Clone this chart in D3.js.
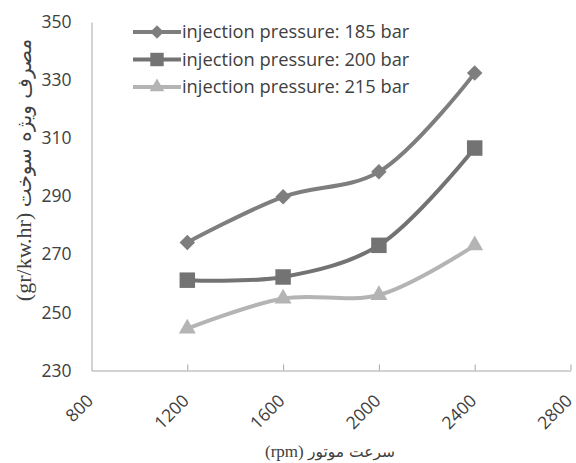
<!DOCTYPE html>
<html><head><meta charset="utf-8">
<script src="https://cdn.jsdelivr.net/npm/d3@7"></script>
<style>body{margin:0;background:#fff}</style>
</head><body>
<script>
const rpm = [1200, 1600, 2000, 2400];
const p185 = [274.1, 289.8, 298.4, 332.4];
const p200 = [261.1, 262.2, 273.1, 306.6];
const p215 = [244.4, 254.8, 256.0, 273.1];
const seriesNames = ["injection pressure: 185 bar", "injection pressure: 200 bar", "injection pressure: 215 bar"];
const xTicks = [800, 1200, 1600, 2000, 2400, 2800];
const yTicks = [230, 250, 270, 290, 310, 330, 350];

const W = 576, H = 463;
const svg = d3.select("body").append("svg").attr("width", W).attr("height", H);
const x = d3.scaleLinear().domain([800, 2800]).range([91.5, 570.5]);
const y = d3.scaleLinear().domain([230, 350]).range([370.5, 22]);

const axisColor = "#a6a6a6", textColor = "#404040";
const font = "'Open Sans', 'Noto Sans', sans-serif";

// x axis
const xa = svg.append("g").attr("transform", `translate(0,${y(230)})`)
  .call(d3.axisBottom(x).tickValues(xTicks).tickSizeInner(-6).tickSizeOuter(0).tickFormat(d3.format("d")));
xa.select(".domain").attr("stroke", axisColor);
xa.selectAll(".tick line").attr("stroke", axisColor).attr("stroke-width", 1);
xa.selectAll(".tick").filter(d => d === 800).select("line").remove();
xa.selectAll(".tick text").attr("fill", textColor).attr("font-size", 17.5).attr("font-family", font)
  .attr("text-anchor", "end").attr("transform", "translate(-2,27) rotate(-45)").attr("dy", "0.35em").attr("y", 0).attr("x", 0);

// y axis
const ya = svg.append("g").attr("transform", `translate(${x(800)},0)`)
  .call(d3.axisLeft(y).tickValues(yTicks).tickSize(0).tickPadding(20));
ya.select(".domain").attr("stroke", axisColor);
ya.selectAll(".tick text").attr("fill", textColor).attr("font-size", 17.5).attr("font-family", font);

const series = [
  {name: seriesNames[0], vals: p185, color: "#7e7e7e", shape: d3.symbolSquare, size: 120, rot: 45},
  {name: seriesNames[1], vals: p200, color: "#737373", shape: d3.symbolSquare, size: 240, rot: 0},
  {name: seriesNames[2], vals: p215, color: "#b4b4b4", shape: d3.symbolTriangle, size: 125, rot: 0}
];

const line = d3.line().curve(d3.curveCatmullRom.alpha(0.5)).x(d => x(d[0])).y(d => y(d[1]));
series.forEach(s => {
  const pts = rpm.map((r, i) => [r, s.vals[i]]);
  svg.append("path").attr("d", line(pts)).attr("fill", "none").attr("stroke", s.color).attr("stroke-width", 4);
  svg.selectAll(null).data(pts).enter().append("path")
    .attr("d", d3.symbol().type(s.shape).size(s.size))
    .attr("transform", d => `translate(${x(d[0])},${y(d[1])}) rotate(${s.rot})`)
    .attr("fill", s.color);
});

// legend
const lg = svg.append("g");
series.forEach((s, i) => {
  const ly = 32 + i * 27.5;
  lg.append("line").attr("x1", 133).attr("x2", 181).attr("y1", ly).attr("y2", ly)
    .attr("stroke", s.color).attr("stroke-width", 4);
  lg.append("path").attr("d", d3.symbol().type(s.shape).size(s.size * 0.75))
    .attr("transform", `translate(157,${ly}) rotate(${s.rot})`).attr("fill", s.color);
  lg.append("text").attr("x", 182).attr("y", ly).attr("dy", "0.35em")
    .attr("fill", textColor).attr("font-size", 18.3).attr("font-family", font).text(s.name);
});

// axis titles
const xt = svg.append("text").attr("x", 330).attr("y", 457).attr("text-anchor", "middle").attr("fill", textColor);
xt.append("tspan").attr("font-size", 17).attr("font-family", "'Liberation Serif', 'DejaVu Serif', serif").text("(rpm) ");
xt.append("tspan").attr("font-size", 15.5).attr("font-family", "'DejaVu Sans', sans-serif").text("سرعت موتور");

const yt = svg.append("text").attr("transform", "translate(31,170) rotate(-90)").attr("text-anchor", "middle").attr("fill", textColor);
yt.append("tspan").attr("font-size", 22).attr("font-family", "'Liberation Serif', 'DejaVu Serif', serif").text("(gr/kw.hr) ");
yt.append("tspan").attr("font-size", 20).attr("font-family", "'DejaVu Sans', sans-serif").text("مصرف ویژه سوخت");
</script>
</body></html>
